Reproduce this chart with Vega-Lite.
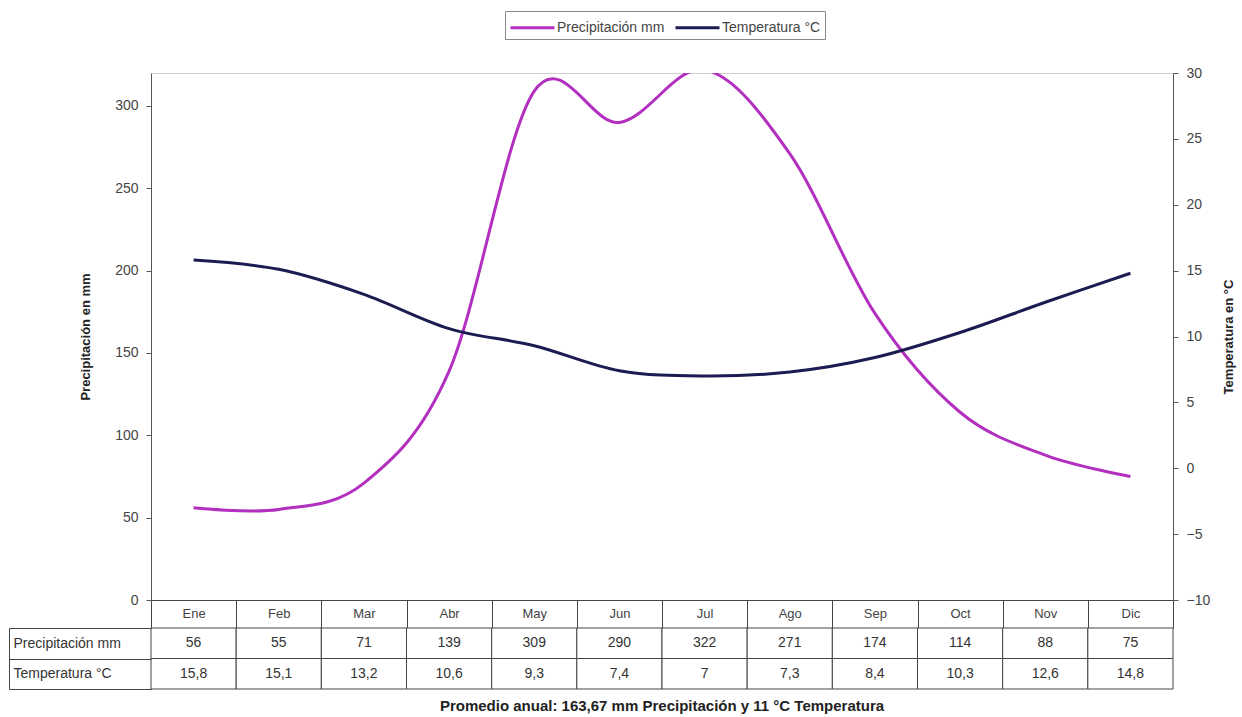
{
  "$schema": "https://vega.github.io/schema/vega-lite/v6.json",
  "padding": {"left": 8, "top": 10, "right": 5, "bottom": 5},
  "bounds": "flush",
  "spacing": 28,
  "config": {
    "font": "Liberation Sans",
    "view": {"stroke": null},
    "axis": {"labelFont": "Liberation Sans", "labelFontSize": 14, "labelColor": "#444", "domainColor": "#555", "tickColor": "#555", "titleFont": "Liberation Sans", "titleFontSize": 13, "titleColor": "#222", "grid": false},
    "locale": {"number": {"decimal": ",", "thousands": ".", "grouping": [3], "currency": ["", " €"]}}
  },
  "datasets": {
    "clima": [
      {"mes": "Ene", "precip": 56, "temp": 15.8},
      {"mes": "Feb", "precip": 55, "temp": 15.1},
      {"mes": "Mar", "precip": 71, "temp": 13.2},
      {"mes": "Abr", "precip": 139, "temp": 10.6},
      {"mes": "May", "precip": 309, "temp": 9.3},
      {"mes": "Jun", "precip": 290, "temp": 7.4},
      {"mes": "Jul", "precip": 322, "temp": 7},
      {"mes": "Ago", "precip": 271, "temp": 7.3},
      {"mes": "Sep", "precip": 174, "temp": 8.4},
      {"mes": "Oct", "precip": 114, "temp": 10.3},
      {"mes": "Nov", "precip": 88, "temp": 12.6},
      {"mes": "Dic", "precip": 75, "temp": 14.8}
    ]
  },
  "vconcat": [
    {
      "width": 1022,
      "height": 527,
      "view": {"stroke": "#cfcfcf"},
      "data": {"name": "clima"},
      "encoding": {
        "x": {"field": "mes", "type": "nominal", "sort": null, "bandPosition": 0.5,
          "scale": {"type": "band", "paddingInner": 0, "paddingOuter": 0},
          "axis": {"title": null, "labelAngle": 0, "tickBand": "extent", "tickSize": 28, "labelPadding": -21, "labelFontSize": 13, "tickColor": "#444", "domainColor": "#444"}}
      },
      "layer": [
        {
          "mark": {"type": "line", "interpolate": "cardinal", "strokeWidth": 3, "clip": true},
          "encoding": {
            "y": {"field": "precip", "type": "quantitative", "scale": {"domain": [0, 320], "nice": false},
              "axis": {"values": [0, 50, 100, 150, 200, 250, 300], "title": "Precipitación en mm", "titleFontWeight": "bold", "tickSize": 5, "labelPadding": 8, "titlePadding": 22}},
            "color": {"datum": "Precipitación mm", "type": "nominal",
              "scale": {"domain": ["Precipitación mm", "Temperatura °C"], "range": ["#b22fc0", "#1c1c52"]},
              "legend": {"orient": "none", "legendX": 354, "legendY": -62, "direction": "horizontal", "title": null, "symbolType": "M-2,0L2,0", "symbolStrokeWidth": 3, "symbolSize": 484, "symbolOffset": 11, "labelFontSize": 14, "labelColor": "#444", "strokeColor": "#888", "padding": 4, "columnPadding": 4, "labelOffset": 12}}
          }
        },
        {
          "mark": {"type": "line", "interpolate": "cardinal", "strokeWidth": 3, "clip": true},
          "encoding": {
            "y": {"field": "temp", "type": "quantitative", "scale": {"domain": [-10, 30], "nice": false},
              "axis": {"orient": "right", "values": [-10, -5, 0, 5, 10, 15, 20, 25, 30], "title": "Temperatura en °C", "titleAngle": 270, "titleFontWeight": "bold", "tickSize": 5, "labelPadding": 8, "titlePadding": 26}},
            "color": {"datum": "Temperatura °C", "type": "nominal"}
          }
        }
      ],
      "resolve": {"scale": {"y": "independent"}}
    },
    {
      "width": 1022,
      "height": 61,
      "data": {"name": "clima"},
      "transform": [{"fold": ["precip", "temp"], "as": ["serie", "valor"]}],
      "title": {"text": "Promedio anual:  163,67 mm Precipitación y 11 °C Temperatura", "orient": "bottom", "fontSize": 15, "fontWeight": "bold", "offset": 9, "anchor": "middle", "font": "Liberation Sans", "color": "#222"},
      "encoding": {
        "x": {"field": "mes", "type": "nominal", "sort": null, "scale": {"type": "band", "paddingInner": 0, "paddingOuter": 0}, "axis": null}
      },
      "layer": [
        {
          "mark": {"type": "rect", "fill": "white", "stroke": "#444", "strokeWidth": 1},
          "encoding": {
            "y": {"field": "serie", "type": "nominal", "scale": {"type": "band", "paddingInner": 0, "paddingOuter": 0},
              "axis": {"title": null, "labelExpr": "datum.value == 'precip' ? 'Precipitación mm' : datum.value == 'temp' ? 'Temperatura °C' : ''", "labelAlign": "left", "tickBand": "extent", "tickSize": 142, "labelPadding": -4, "labelFontSize": 14, "labelColor": "#333", "domain": false, "tickColor": "#444"}}
          }
        },
        {
          "mark": {"type": "text", "fontSize": 14, "color": "#333"},
          "encoding": {
            "y": {"field": "serie", "type": "nominal", "axis": {"orient": "left", "offset": 142, "labels": false, "ticks": false, "domain": true, "domainColor": "#444", "title": null}},
            "text": {"field": "valor", "type": "quantitative", "format": "~g"}
          }
        }
      ],
      "resolve": {"axis": {"y": "independent"}}
    }
  ]
}
